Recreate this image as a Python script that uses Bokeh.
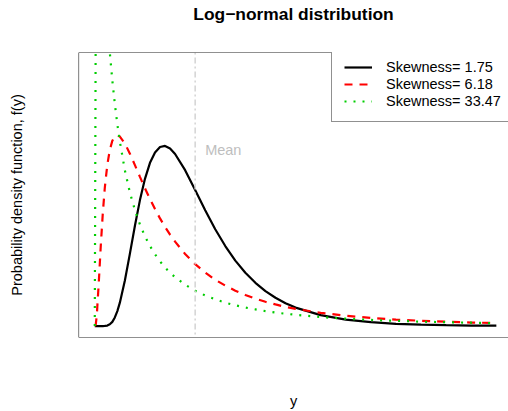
from bokeh.plotting import figure
from bokeh.models import Label, Span, Range1d, Legend, LegendItem, LinearAxis, FixedTicker
from bokeh.embed import file_html
from bokeh.resources import INLINE

# ---- data ----
x_vals = [0, 0.01, 0.02, 0.04, 0.06, 0.08, 0.10, 0.125, 0.15, 0.175, 0.2, 0.225,
          0.25, 0.3, 0.35, 0.4, 0.45, 0.5, 0.55, 0.6, 0.65, 0.7, 0.75, 0.8, 0.9,
          1.0, 1.1, 1.2, 1.3, 1.4, 1.5, 1.6, 1.7, 1.8, 1.9, 2.0, 2.25, 2.5, 2.75,
          3.0, 3.25, 3.5, 3.75, 4.0]
dens_skew_1_75 = [0, 0, 0, 0, 0, 0, 0.001, 0.003, 0.010, 0.024, 0.049, 0.085,
                  0.133, 0.259, 0.412, 0.570, 0.716, 0.837, 0.928, 0.987, 1.018, 1.024,
                  1.009, 0.978, 0.886, 0.773, 0.658, 0.550, 0.455, 0.372, 0.303, 0.246,
                  0.199, 0.161, 0.130, 0.105, 0.062, 0.037, 0.022, 0.013, 0.008, 0.005,
                  0.003, 0.002]
dens_skew_6_18 = [0, 0.009, 0.059, 0.248, 0.458, 0.641, 0.786, 0.917, 1.002, 1.053,
                  1.078, 1.084, 1.077, 1.038, 0.980, 0.915, 0.848, 0.783, 0.722, 0.665,
                  0.612, 0.564, 0.520, 0.480, 0.410, 0.352, 0.304, 0.263, 0.230, 0.201,
                  0.177, 0.156, 0.138, 0.123, 0.109, 0.098, 0.075, 0.059, 0.046, 0.037,
                  0.030, 0.025, 0.020, 0.017]
dens_skew_33_47 = [0, 1.80, 2.37, 2.51, 2.35, 2.15, 1.95, 1.738, 1.553, 1.396, 1.262,
                   1.147, 1.048, 0.885, 0.759, 0.659, 0.577, 0.510, 0.455, 0.408, 0.368,
                   0.333, 0.303, 0.278, 0.235, 0.201, 0.174, 0.152, 0.133, 0.118, 0.105,
                   0.095, 0.085, 0.077, 0.070, 0.064, 0.051, 0.042, 0.035, 0.030, 0.025,
                   0.022, 0.019, 0.016]
series_labels = ["Skewness= 1.75", "Skewness= 6.18", "Skewness= 33.47"]
mean_value = 1.0
mean_text = "Mean"
title_text = "Log\u2212normal distribution"
x_label = "y"
y_label = "Probability density function, f(y)"

FONT = "Liberation Sans"

p = figure(width=508, height=411, output_backend="svg", toolbar_location=None,
           x_range=Range1d(-0.162, 4.121), y_range=Range1d(-0.065, 1.555),
           x_axis_location=None, y_axis_location=None,
           min_border_left=78, min_border_right=0, min_border_top=51,
           min_border_bottom=72)
p.grid.visible = False
p.outline_line_color = None
p.background_fill_color = "white"
p.border_fill_color = "white"


def bare_axis(label, standoff, size="14.5px", bold=False):
    ax = LinearAxis(ticker=FixedTicker(ticks=[]), axis_label=label,
                    axis_label_standoff=standoff)
    ax.axis_line_color = None
    ax.major_tick_line_color = None
    ax.minor_tick_line_color = None
    ax.major_tick_in = 0
    ax.major_tick_out = 0
    ax.minor_tick_in = 0
    ax.minor_tick_out = 0
    ax.major_label_standoff = 0
    ax.major_label_text_font_size = "0px"
    ax.axis_label_text_font = FONT
    ax.axis_label_text_font_size = size
    ax.axis_label_text_color = "black"
    ax.axis_label_text_font_style = "bold" if bold else "normal"
    return ax


p.add_layout(bare_axis(x_label, 55), "below")
p.add_layout(bare_axis(y_label, 54), "left")
p.add_layout(bare_axis(title_text, 29, size="17.4px", bold=True), "above")

r1 = p.line(x_vals, dens_skew_1_75, line_color="black", line_width=2.2)
r2 = p.line(x_vals, dens_skew_6_18, line_color="#FF0000", line_width=2.2,
            line_dash="8 7")
r3 = p.line(x_vals, dens_skew_33_47, line_color="#00CD00", line_width=2.2,
            line_dash="2 7")

p.add_layout(Span(location=mean_value, dimension="height", line_color="#D3D3D3",
                  line_width=1.5, line_dash="2 3 6 3"))

# box (left, top, bottom); right side lies beyond the window
for loc, dim in [(1.555, "width"), (-0.065, "width"), (-0.162, "height")]:
    p.add_layout(Span(location=loc, dimension=dim, line_color="#222222", line_width=1.2))

p.add_layout(Label(x=mean_value, y=1.0, x_offset=10, text=mean_text,
                   text_color="#BEBEBE", text_font=FONT, text_font_size="14.5px",
                   text_baseline="middle", text_align="left"))

legend = Legend(items=[LegendItem(label=series_labels[0], renderers=[r1]),
                       LegendItem(label=series_labels[1], renderers=[r2]),
                       LegendItem(label=series_labels[2], renderers=[r3])],
                location=(253, 215))
legend.border_line_color = "#222222"
legend.border_line_width = 1.2
legend.background_fill_color = "white"
legend.background_fill_alpha = 1.0
legend.padding = 12
legend.spacing = 1
legend.margin = 0
legend.glyph_width = 28
legend.glyph_height = 16
legend.label_height = 16
legend.label_standoff = 14
legend.label_text_font = FONT
legend.label_text_font_size = "14.5px"
legend.label_text_color = "black"
p.add_layout(legend)

open("out.html", "w").write(file_html(p, INLINE))
